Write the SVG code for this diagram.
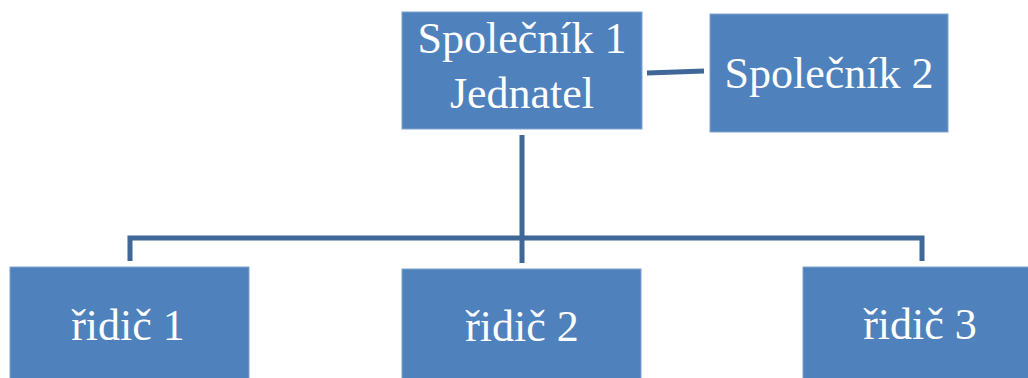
<svg xmlns="http://www.w3.org/2000/svg" width="1028" height="378" viewBox="0 0 1028 378">
<style>
.box{fill:#4F81BD;stroke:#7FA3D0;stroke-width:1}
.lbl{font-family:"Liberation Serif","Times New Roman",serif;font-size:44px;fill:#FFFFFF;text-anchor:middle}
.conn{fill:none;stroke:#3F6797;stroke-width:5}
</style>
<rect width="1028" height="378" fill="#FFFFFF"/>
<g id="connectors">
<path class="conn" d="M647,73 L704,71"/>
<path class="conn" d="M522,135 L522,263"/>
<path class="conn" d="M130,261 L130,238 L922,238 L922,261"/>
</g>
<g id="spolecnik1">
<rect class="box" x="402" y="12" width="240" height="117"/>
<text class="lbl" x="522" y="53">Společník 1</text>
<text class="lbl" x="522" y="108">Jednatel</text>
</g>
<g id="spolecnik2">
<rect class="box" x="710" y="14" width="238" height="118"/>
<text class="lbl" x="829" y="88">Společník 2</text>
</g>
<g id="ridic1">
<rect class="box" x="10" y="267" width="239" height="120"/>
<text class="lbl" x="128" y="340">řidič 1</text>
</g>
<g id="ridic2">
<rect class="box" x="402" y="269" width="239" height="120"/>
<text class="lbl" x="522" y="341">řidič 2</text>
</g>
<g id="ridic3">
<rect class="box" x="803" y="267" width="239" height="120"/>
<text class="lbl" x="920" y="339">řidič 3</text>
</g>
</svg>
